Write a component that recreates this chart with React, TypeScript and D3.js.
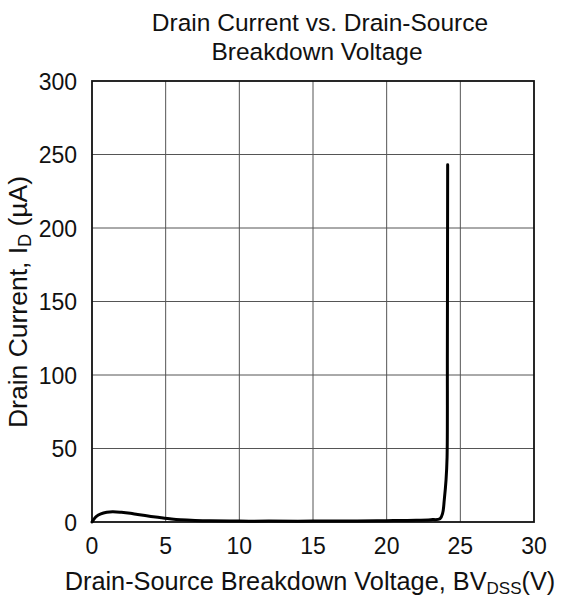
import React from "react";
import * as d3 from "d3";

const xTicks = [0, 5, 10, 15, 20, 25, 30];
const yTicks = [0, 50, 100, 150, 200, 250, 300];
const voltage = [0, 0.1, 0.3, 0.6, 1.0, 1.4, 2.0, 2.6, 3.1, 4.0, 4.7, 5.4, 6.0, 7.0, 8.0, 10, 12, 15, 18, 20, 22, 23.0, 23.62, 23.8, 23.91, 24.03, 24.1, 24.12, 24.14];
const current = [0, 1.5, 3.8, 5.5, 6.6, 7.0, 6.6, 5.9, 5.1, 3.8, 2.9, 2.1, 1.6, 1.1, 0.8, 0.6, 0.6, 0.6, 0.7, 0.9, 1.2, 1.6, 2.2, 6, 15, 28.6, 44, 117, 243];

const W = 563, H = 597;
const left = 92, right = 534, top = 81, bottom = 522;

export default function App() {
  const x = d3.scaleLinear().domain([0, 30]).range([left, right]);
  const y = d3.scaleLinear().domain([0, 300]).range([bottom, top]);
  const pts: [number, number][] = voltage.map((v, i) => [v, current[i]]);
  const line = d3.line<[number, number]>().x(d => x(d[0])).y(d => y(d[1])).curve(d3.curveCatmullRom.alpha(0.5));
  const font = "'Liberation Sans', Arial, sans-serif";
  return (
    <svg width={W} height={H} style={{ position: "absolute", left: 0, top: 0, background: "#fff" }} fontFamily={font}>
      <rect x={0} y={0} width={W} height={H} fill="#fff" />
      {xTicks.slice(1, -1).map(t => (
        <line key={"gx" + t} x1={x(t)} x2={x(t)} y1={top} y2={bottom} stroke="#555" strokeWidth={1} />
      ))}
      {yTicks.slice(1, -1).map(t => (
        <line key={"gy" + t} x1={left} x2={right} y1={y(t)} y2={y(t)} stroke="#555" strokeWidth={1} />
      ))}
      <rect x={left} y={top} width={right - left} height={bottom - top} fill="none" stroke="#111" strokeWidth={1.8} />
      <path d={line(pts) || ""} fill="none" stroke="#000" strokeWidth={3} strokeLinejoin="round" strokeLinecap="round" />
      {xTicks.map(t => (
        <text key={"tx" + t} x={x(t)} y={554} textAnchor="middle" fontSize={23} fill="#111">{t}</text>
      ))}
      {yTicks.map(t => (
        <text key={"ty" + t} x={77} y={y(t) + 8.5} textAnchor="end" fontSize={23} fill="#111">{t}</text>
      ))}
      <text x={320} y={31} textAnchor="middle" fontSize={24.5} fill="#111">Drain Current vs. Drain-Source</text>
      <text x={317} y={60} textAnchor="middle" fontSize={24.5} fill="#111">Breakdown Voltage</text>
      <text x={310} y={590} textAnchor="middle" fontSize={25.3} fill="#111">
        Drain-Source Breakdown Voltage, BV<tspan fontSize={17} dy={4}>DSS</tspan><tspan dy={-4}>(V)</tspan>
      </text>
      <text transform="translate(27,302) rotate(-90)" textAnchor="middle" fontSize={26.5} fill="#111">
        Drain Current, I<tspan fontSize={18} dy={4}>D</tspan><tspan dy={-4}> (µA)</tspan>
      </text>
    </svg>
  );
}
